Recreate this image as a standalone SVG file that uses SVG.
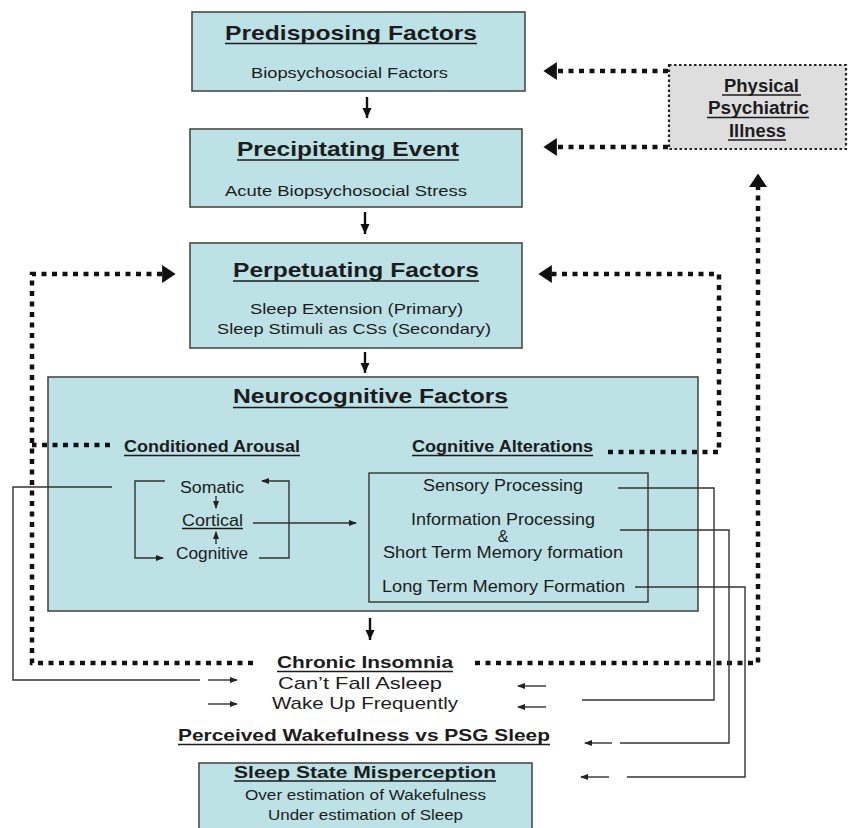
<svg xmlns="http://www.w3.org/2000/svg" width="849" height="828" viewBox="0 0 849 828">
<style>
text{font-family:"Liberation Sans",Arial,sans-serif;fill:#1c1c1c}
.t{font-weight:bold;font-size:21px}
.s{font-size:15px}
.m{font-size:16px}
.mb{font-size:16px;font-weight:bold}
.b{font-size:17px;font-weight:bold}
.r{font-size:17px}
.p{font-size:18px;font-weight:bold}
.box{fill:#bde2e5;stroke:#4a4a4a;stroke-width:1.6}
.ul{stroke:#1c1c1c;stroke-width:1.6}
.dot{fill:none;stroke:#111;stroke-width:4.5;stroke-dasharray:5 5.5}
.thin{fill:none;stroke:#333;stroke-width:1.4}
.thk{fill:none;stroke:#111;stroke-width:2.4}
</style>
<defs>
<marker id="big" markerWidth="4" markerHeight="4" refX="2.2" refY="2" orient="auto" markerUnits="strokeWidth"><path d="M0,0 L3,2 L0,4 z" fill="#111"/></marker>
<marker id="mid" markerWidth="12" markerHeight="10" refX="10" refY="5" orient="auto" markerUnits="userSpaceOnUse"><path d="M0,0.5 L10,5 L0,9.5 z" fill="#111"/></marker>
<marker id="sm" markerWidth="8" markerHeight="6" refX="7" refY="3" orient="auto" markerUnits="userSpaceOnUse"><path d="M0,0 L8,3 L0,6 z" fill="#222"/></marker>
</defs>

<g id="predisposing">
<rect class="box" x="192" y="12" width="333" height="79"/>
<text class="t" x="225" y="40" textLength="252" lengthAdjust="spacingAndGlyphs">Predisposing Factors</text>
<line class="ul" x1="225" y1="43.5" x2="477" y2="43.5"/>
<text class="s" x="251" y="78" textLength="197" lengthAdjust="spacingAndGlyphs">Biopsychosocial Factors</text>
</g>

<g id="precipitating">
<rect class="box" x="190" y="129" width="332" height="78"/>
<text class="t" x="237" y="156" textLength="222" lengthAdjust="spacingAndGlyphs">Precipitating Event</text>
<line class="ul" x1="237" y1="160" x2="459" y2="160"/>
<text class="s" x="225" y="196" textLength="242" lengthAdjust="spacingAndGlyphs">Acute Biopsychosocial Stress</text>
</g>

<g id="perpetuating">
<rect class="box" x="190" y="243" width="332" height="105"/>
<text class="t" x="233" y="277" textLength="246" lengthAdjust="spacingAndGlyphs">Perpetuating Factors</text>
<line class="ul" x1="233" y1="281" x2="479" y2="281"/>
<text class="s" x="250" y="314" textLength="213" lengthAdjust="spacingAndGlyphs">Sleep Extension (Primary)</text>
<text class="s" x="217" y="334" textLength="274" lengthAdjust="spacingAndGlyphs">Sleep Stimuli as CSs (Secondary)</text>
</g>

<g id="physical">
<rect x="669" y="65" width="177" height="84" fill="#dedede" stroke="#222" stroke-width="2.2" stroke-dasharray="2.5 2.5"/>
<text class="p" x="724" y="92" textLength="75" lengthAdjust="spacingAndGlyphs">Physical</text>
<line class="ul" x1="722" y1="95" x2="801" y2="95"/>
<text class="p" x="708" y="114" textLength="101" lengthAdjust="spacingAndGlyphs">Psychiatric</text>
<line class="ul" x1="707" y1="117.5" x2="809" y2="117.5"/>
<text class="p" x="729" y="137" textLength="57" lengthAdjust="spacingAndGlyphs">Illness</text>
<line class="ul" x1="728" y1="140" x2="786" y2="140"/>
</g>

<g id="neurocognitive">
<rect class="box" x="48" y="377" width="650" height="234"/>
<text class="t" font-size="22" x="233" y="403" textLength="275" lengthAdjust="spacingAndGlyphs">Neurocognitive Factors</text>
<line class="ul" x1="233" y1="407.5" x2="508" y2="407.5"/>
</g>

<g id="conditioned-arousal">
<text class="mb" x="124" y="452" textLength="176" lengthAdjust="spacingAndGlyphs">Conditioned Arousal</text>
<line class="ul" x1="124" y1="455.5" x2="300" y2="455.5"/>
<text class="m" x="180" y="493" textLength="64" lengthAdjust="spacingAndGlyphs">Somatic</text>
<text class="m" x="182" y="526" textLength="61" lengthAdjust="spacingAndGlyphs">Cortical</text>
<line class="ul" x1="182" y1="528.5" x2="243" y2="528.5"/>
<text class="m" x="176" y="559" textLength="72" lengthAdjust="spacingAndGlyphs">Cognitive</text>
</g>

<g id="cognitive-alterations">
<text class="mb" x="412" y="452" textLength="181" lengthAdjust="spacingAndGlyphs">Cognitive Alterations</text>
<line class="ul" x1="412" y1="455.5" x2="593" y2="455.5"/>
<rect x="369" y="473" width="279" height="129" fill="none" stroke="#333" stroke-width="1.4"/>
<text class="m" x="423" y="491" textLength="160" lengthAdjust="spacingAndGlyphs">Sensory Processing</text>
<text class="m" x="411" y="525" textLength="184" lengthAdjust="spacingAndGlyphs">Information Processing</text>
<text class="m" x="503" y="542" text-anchor="middle">&amp;</text>
<text class="m" x="383" y="558" textLength="240" lengthAdjust="spacingAndGlyphs">Short Term Memory formation</text>
<text class="m" x="382" y="592" textLength="243" lengthAdjust="spacingAndGlyphs">Long Term Memory Formation</text>
</g>

<g id="chronic-insomnia">
<text class="b" x="277" y="668" textLength="176" lengthAdjust="spacingAndGlyphs">Chronic Insomnia</text>
<line class="ul" x1="277" y1="671.5" x2="453" y2="671.5"/>
<text class="r" x="278" y="689" textLength="164" lengthAdjust="spacingAndGlyphs">Can’t Fall Asleep</text>
<text class="r" x="272" y="709" textLength="186" lengthAdjust="spacingAndGlyphs">Wake Up Frequently</text>
</g>

<g id="perceived">
<text class="b" x="178" y="741" textLength="372" lengthAdjust="spacingAndGlyphs">Perceived Wakefulness vs PSG Sleep</text>
<line class="ul" x1="178" y1="744.5" x2="550" y2="744.5"/>
</g>

<g id="misperception">
<rect class="box" x="199" y="763" width="333" height="70"/>
<text class="b" x="234" y="778" textLength="262" lengthAdjust="spacingAndGlyphs">Sleep State Misperception</text>
<line class="ul" x1="234" y1="781" x2="496" y2="781"/>
<text class="s" x="245" y="800" textLength="241" lengthAdjust="spacingAndGlyphs">Over estimation of Wakefulness</text>
<text class="s" x="268" y="820" textLength="195" lengthAdjust="spacingAndGlyphs">Under estimation of Sleep</text>
</g>

<g id="connectors">
<line class="thk" x1="367" y1="97" x2="367" y2="118" marker-end="url(#mid)"/>
<line class="thk" x1="365" y1="212" x2="365" y2="234" marker-end="url(#mid)"/>
<line class="thk" x1="365" y1="352" x2="365" y2="373" marker-end="url(#mid)"/>
<line class="thk" x1="370" y1="618" x2="370" y2="640" marker-end="url(#mid)" stroke-width="3"/>
<line class="dot" x1="668" y1="71" x2="547" y2="71" marker-end="url(#big)"/>
<line class="dot" x1="668" y1="147" x2="547" y2="147" marker-end="url(#big)"/>
<path class="dot" d="M253,663 H32 V274 H172" marker-end="url(#big)"/>
<path class="dot" d="M110,445 H32"/>
<path class="dot" d="M608,452 H719 V274 H542" marker-end="url(#big)"/>
<path class="dot" d="M475,663 H758 V177" marker-end="url(#big)"/>
<path class="thin" d="M165,481 H135 V558 H163" marker-end="url(#sm)"/>
<path class="thin" d="M259,558 H289 V481 H262" marker-end="url(#sm)"/>
<line class="thin" x1="216" y1="496" x2="216" y2="508" marker-end="url(#sm)"/>
<line class="thin" x1="216" y1="544" x2="216" y2="532" marker-end="url(#sm)"/>
<line class="thin" x1="253" y1="523" x2="356" y2="523" marker-end="url(#sm)"/>
<path class="thin" d="M112,487 H13 V680 H200"/>
<line class="thin" x1="208" y1="680" x2="237" y2="680" marker-end="url(#sm)"/>
<line class="thin" x1="208" y1="704" x2="237" y2="704" marker-end="url(#sm)"/>
<path class="thin" d="M618,488 H714 V700 H582"/>
<line class="thin" x1="546" y1="686" x2="518" y2="686" marker-end="url(#sm)"/>
<line class="thin" x1="546" y1="707" x2="518" y2="707" marker-end="url(#sm)"/>
<path class="thin" d="M620,530 H729 V743 H620"/>
<line class="thin" x1="612" y1="743" x2="585" y2="743" marker-end="url(#sm)"/>
<path class="thin" d="M635,587 H745 V777 H627"/>
<line class="thin" x1="609" y1="777" x2="581" y2="777" marker-end="url(#sm)"/>
</g>
</svg>
